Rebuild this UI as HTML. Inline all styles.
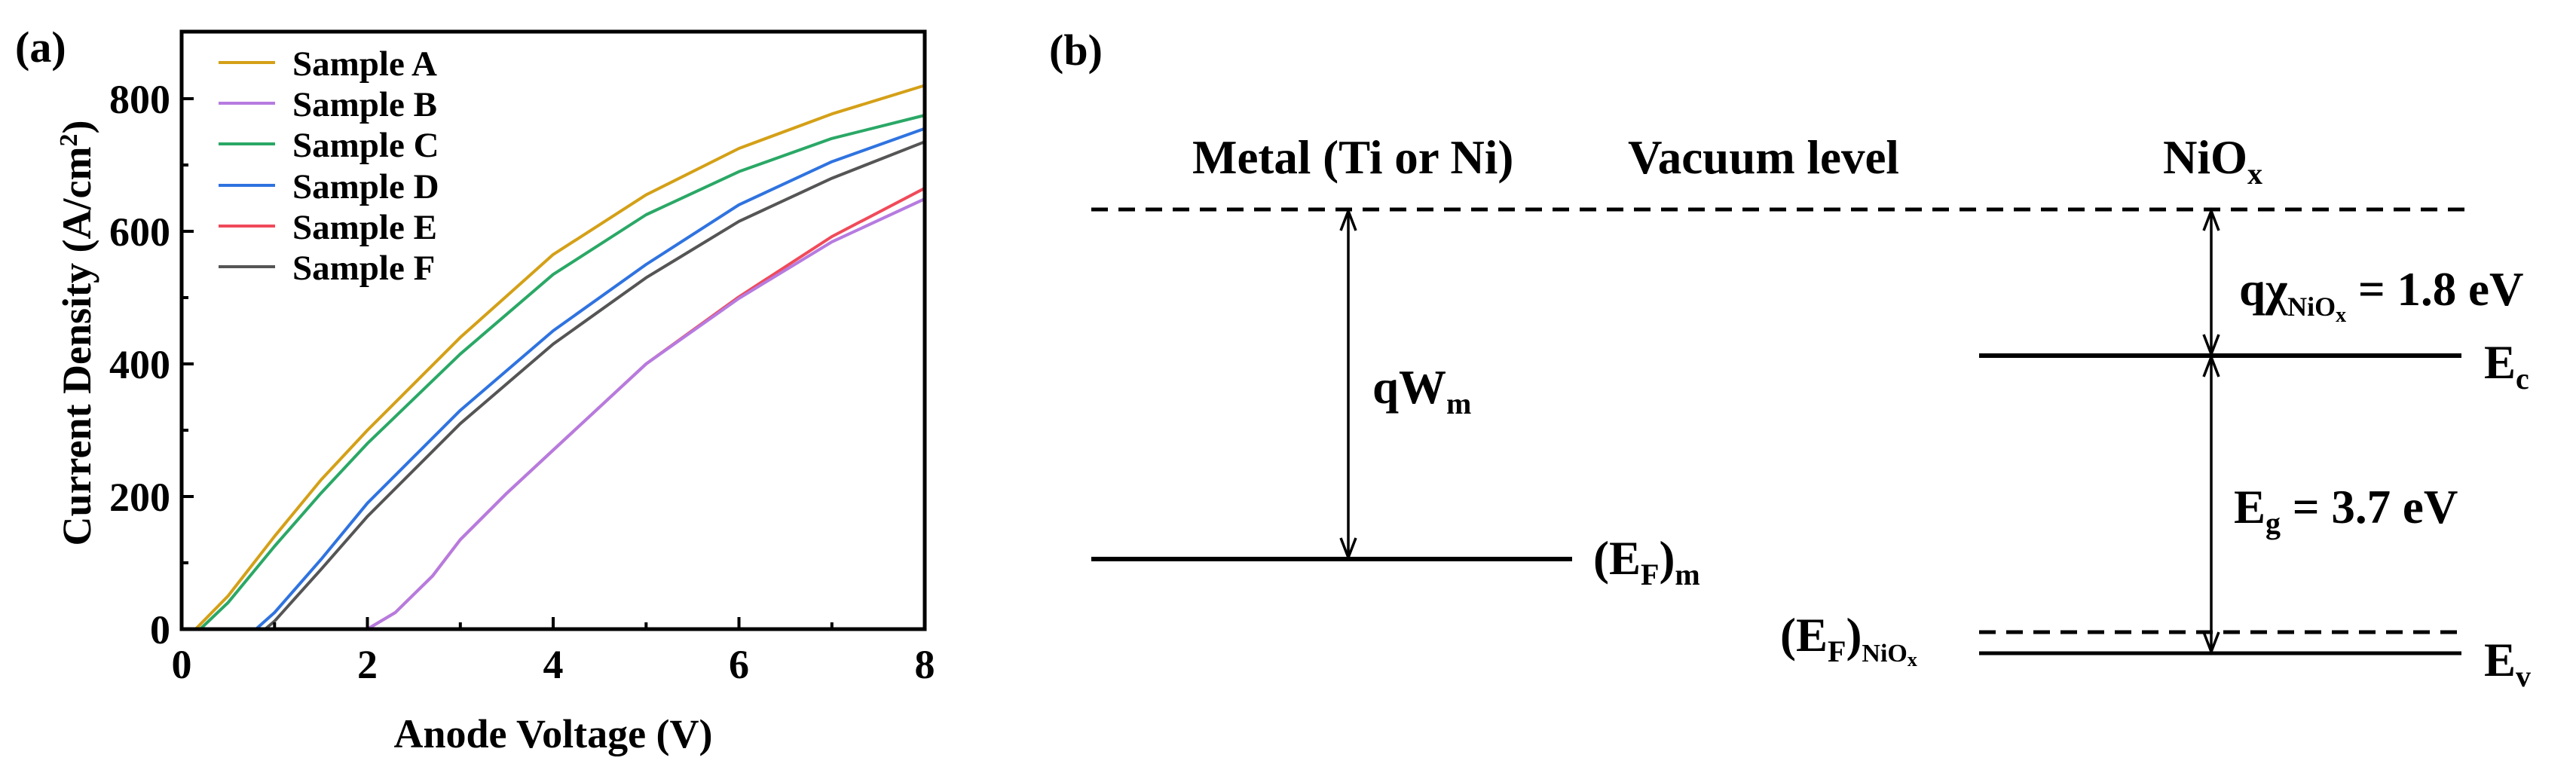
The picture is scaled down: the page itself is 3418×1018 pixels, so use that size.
<!DOCTYPE html>
<html><head><meta charset="utf-8"><style>
html,body{margin:0;padding:0;background:#fff;}
svg{display:block;}
text{font-family:"Liberation Serif",serif;font-weight:bold;fill:#000;}
</style></head><body>
<svg width="3418" height="1018" viewBox="0 0 3418 1018" xmlns="http://www.w3.org/2000/svg">
<!-- Panel (a) -->
<text x="20" y="82" font-size="58">(a)</text>
<g fill="none" stroke-width="4" stroke-linejoin="round" stroke-linecap="round">
<polyline stroke="#f04a5a" points="487.5,835 524.5,813 573.8,764.6 610.8,716.2 672.4,654.6 734,597.4 857.3,483 980.5,394 1103.8,314 1227,249.8"/>
<polyline stroke="#b67be0" points="487.5,835 524.5,813 573.8,764.6 610.8,716.2 672.4,654.6 734,597.4 857.3,483 980.5,396 1103.8,321 1227,264"/>
<polyline stroke="#555555" points="351.9,835 364.3,824.4 425.9,755.8 487.5,685.4 610.8,562.2 734,456.6 857.3,368.6 980.5,293.8 1103.8,236.6 1227,188.2"/>
<polyline stroke="#2f73e0" points="339.6,835 364.3,813 425.9,742.6 487.5,667.8 610.8,544.6 734,439 857.3,351 980.5,271.8 1103.8,214.6 1227,170.6"/>
<polyline stroke="#2aa866" points="265.7,835 302.6,799.8 364.3,725 425.9,654.6 487.5,588.6 610.8,469.8 734,364.2 857.3,285 980.5,227.8 1103.8,183.8 1227,153"/>
<polyline stroke="#d4a017" points="259.5,835 302.6,791 364.3,711.8 425.9,637 487.5,571 610.8,447.8 734,337.8 857.3,258.6 980.5,197 1103.8,151.2 1227,113.4"/>
</g>
<rect x="241" y="42" width="986" height="793" fill="none" stroke="#000" stroke-width="5"/>
<g stroke="#000" stroke-width="4">
<line x1="487.5" y1="835" x2="487.5" y2="819"/><line x1="734" y1="835" x2="734" y2="819"/><line x1="980.5" y1="835" x2="980.5" y2="819"/>
<line x1="364.3" y1="835" x2="364.3" y2="826"/><line x1="610.8" y1="835" x2="610.8" y2="826"/><line x1="857.3" y1="835" x2="857.3" y2="826"/><line x1="1103.8" y1="835" x2="1103.8" y2="826"/>
<line x1="241" y1="659" x2="257" y2="659"/><line x1="241" y1="483" x2="257" y2="483"/><line x1="241" y1="307" x2="257" y2="307"/><line x1="241" y1="131" x2="257" y2="131"/>
<line x1="241" y1="747" x2="250" y2="747"/><line x1="241" y1="571" x2="250" y2="571"/><line x1="241" y1="395" x2="250" y2="395"/><line x1="241" y1="219" x2="250" y2="219"/>
</g>
<g font-size="54" text-anchor="end">
<text x="226" y="854">0</text><text x="226" y="678">200</text><text x="226" y="502">400</text><text x="226" y="326">600</text><text x="226" y="150">800</text>
</g>
<g font-size="54" text-anchor="middle">
<text x="241" y="900">0</text><text x="487.5" y="900">2</text><text x="734" y="900">4</text><text x="980.5" y="900">6</text><text x="1227" y="900">8</text>
</g>
<text x="734" y="992" font-size="54" text-anchor="middle">Anode Voltage (V)</text>
<text transform="translate(120,442) rotate(-90)" font-size="54" text-anchor="middle">Current Density (A/cm<tspan dy="-18" font-size="34">2</tspan><tspan dy="18">)</tspan></text>
<g stroke-width="4">
<line x1="290" y1="83" x2="365" y2="83" stroke="#d4a017"/>
<line x1="290" y1="137" x2="365" y2="137" stroke="#b67be0"/>
<line x1="290" y1="191" x2="365" y2="191" stroke="#2aa866"/>
<line x1="290" y1="246" x2="365" y2="246" stroke="#2f73e0"/>
<line x1="290" y1="300" x2="365" y2="300" stroke="#f04a5a"/>
<line x1="290" y1="354" x2="365" y2="354" stroke="#555555"/>
</g>
<g font-size="47">
<text x="388" y="100">Sample A</text><text x="388" y="154">Sample B</text><text x="388" y="208">Sample C</text>
<text x="388" y="263">Sample D</text><text x="388" y="317">Sample E</text><text x="388" y="371">Sample F</text>
</g>

<!-- Panel (b) -->
<text x="1392" y="86" font-size="58">(b)</text>
<g font-size="63">
<text x="1582" y="230">Metal (Ti or Ni)</text>
<text x="2160" y="230">Vacuum level</text>
<text x="2870" y="230">NiO<tspan dy="14" font-size="40">x</tspan></text>
<text x="1821" y="535">qW<tspan dy="14" font-size="40">m</tspan></text>
<text x="2971" y="405">qχ<tspan dy="14" font-size="36">NiO</tspan><tspan dy="8" font-size="28">x</tspan><tspan dy="-22"> = 1.8 eV</tspan></text>
<text x="3296" y="502">E<tspan dy="14" font-size="40">c</tspan></text>
<text x="2964" y="694">E<tspan dy="14" font-size="40">g</tspan><tspan dy="-14"> = 3.7 eV</tspan></text>
<text x="2114" y="762">(E<tspan dy="14" font-size="40">F</tspan><tspan dy="-14">)</tspan><tspan dy="14" font-size="40">m</tspan></text>
<text x="2362" y="864">(E<tspan dy="14" font-size="40">F</tspan><tspan dy="-14">)</tspan><tspan dy="14" font-size="34">NiO</tspan><tspan dy="6" font-size="26">x</tspan></text>
<text x="3296" y="897">E<tspan dy="14" font-size="40">v</tspan></text>
</g>
<g stroke="#000" fill="none">
<line x1="1448" y1="278" x2="3282" y2="278" stroke-width="5" stroke-dasharray="22,14"/>
<line x1="1448" y1="742" x2="2086" y2="742" stroke-width="6"/>
<line x1="2626" y1="472" x2="3266" y2="472" stroke-width="6"/>
<line x1="2626" y1="839" x2="3266" y2="839" stroke-width="5" stroke-dasharray="22,14"/>
<line x1="2626" y1="867" x2="3266" y2="867" stroke-width="5"/>
<line x1="1789" y1="280" x2="1789" y2="740" stroke-width="3.5"/>
<polyline points="1779,306 1789,280 1799,306" stroke-width="3.5"/>
<polyline points="1779,714 1789,740 1799,714" stroke-width="3.5"/>
<line x1="2934" y1="280" x2="2934" y2="470" stroke-width="3.5"/>
<polyline points="2924,306 2934,280 2944,306" stroke-width="3.5"/>
<polyline points="2924,444 2934,470 2944,444" stroke-width="3.5"/>
<line x1="2934" y1="474" x2="2934" y2="865" stroke-width="3.5"/>
<polyline points="2924,500 2934,474 2944,500" stroke-width="3.5"/>
<polyline points="2924,839 2934,865 2944,839" stroke-width="3.5"/>
</g>
</svg>
</body></html>
